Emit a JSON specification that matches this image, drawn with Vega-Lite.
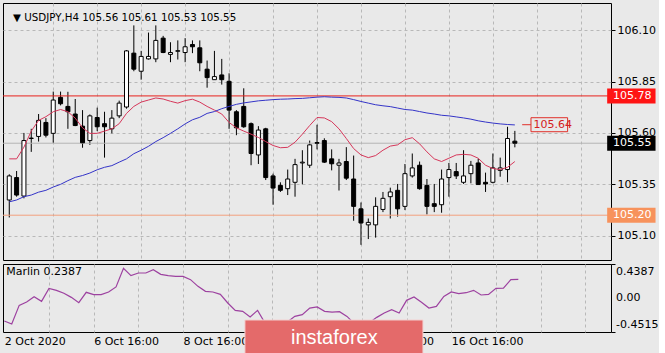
{
  "$schema": "https://vega.github.io/schema/vega-lite/v6.json",
  "background": "#e9e9e9",
  "padding": {"left": 2, "top": 2, "right": 0, "bottom": 0},
  "spacing": 2,
  "config": {
    "font": "DejaVu Sans",
    "view": {"stroke": "#000000", "strokeWidth": 1, "fill": "#e9e9e9"},
    "axis": {"labelFont": "DejaVu Sans", "labelFontSize": 11, "labelColor": "#000000", "title": null, "domain": false, "tickColor": "#000000"}
  },
  "datasets": {
    "bars": [
      {"i":0,"o":105.274,"h":105.399,"l":105.189,"c":105.391,"r":105.474,"b":105.265,"m":-0.308},
      {"i":1,"o":105.383,"h":105.415,"l":105.290,"c":105.298,"r":105.474,"b":105.274,"m":-0.347},
      {"i":2,"o":105.293,"h":105.600,"l":105.282,"c":105.563,"r":105.531,"b":105.290,"m":-0.103},
      {"i":3,"o":105.573,"h":105.620,"l":105.508,"c":105.575,"r":105.609,"b":105.298,"m":-0.059},
      {"i":4,"o":105.583,"h":105.692,"l":105.558,"c":105.661,"r":105.661,"b":105.312,"m":0.011},
      {"i":5,"o":105.651,"h":105.672,"l":105.578,"c":105.589,"r":105.679,"b":105.321,"m":-0.050},
      {"i":6,"o":105.598,"h":105.801,"l":105.552,"c":105.760,"r":105.703,"b":105.337,"m":0.120},
      {"i":7,"o":105.773,"h":105.801,"l":105.734,"c":105.742,"r":105.714,"b":105.350,"m":0.094},
      {"i":8,"o":105.729,"h":105.800,"l":105.620,"c":105.703,"r":105.703,"b":105.368,"m":0.055},
      {"i":9,"o":105.692,"h":105.765,"l":105.633,"c":105.636,"r":105.672,"b":105.384,"m":0.002},
      {"i":10,"o":105.633,"h":105.711,"l":105.528,"c":105.552,"r":105.625,"b":105.393,"m":-0.068},
      {"i":11,"o":105.563,"h":105.690,"l":105.542,"c":105.683,"r":105.598,"b":105.405,"m":0.068},
      {"i":12,"o":105.675,"h":105.723,"l":105.609,"c":105.630,"r":105.598,"b":105.421,"m":0.037},
      {"i":13,"o":105.645,"h":105.703,"l":105.480,"c":105.630,"r":105.609,"b":105.433,"m":0.037},
      {"i":14,"o":105.620,"h":105.711,"l":105.598,"c":105.672,"r":105.620,"b":105.441,"m":0.072},
      {"i":15,"o":105.683,"h":105.757,"l":105.672,"c":105.745,"r":105.645,"b":105.458,"m":0.138},
      {"i":16,"o":105.726,"h":106.003,"l":105.718,"c":105.999,"r":105.695,"b":105.474,"m":0.382},
      {"i":17,"o":105.988,"h":106.123,"l":105.900,"c":105.910,"r":105.729,"b":105.499,"m":0.286},
      {"i":18,"o":105.900,"h":105.999,"l":105.859,"c":105.972,"r":105.750,"b":105.516,"m":0.321},
      {"i":19,"o":105.960,"h":106.088,"l":105.957,"c":105.972,"r":105.760,"b":105.535,"m":0.321},
      {"i":20,"o":105.960,"h":106.123,"l":105.944,"c":106.050,"r":105.770,"b":105.558,"m":0.365},
      {"i":21,"o":106.061,"h":106.072,"l":105.988,"c":105.991,"r":105.765,"b":105.577,"m":0.303},
      {"i":22,"o":105.982,"h":106.041,"l":105.944,"c":105.991,"r":105.754,"b":105.598,"m":0.286},
      {"i":23,"o":105.997,"h":106.050,"l":105.957,"c":106.000,"r":105.745,"b":105.620,"m":0.277},
      {"i":24,"o":105.991,"h":106.061,"l":105.944,"c":106.019,"r":105.757,"b":105.644,"m":0.277},
      {"i":25,"o":106.030,"h":106.050,"l":105.988,"c":106.019,"r":105.764,"b":105.664,"m":0.234},
      {"i":26,"o":106.014,"h":106.050,"l":105.900,"c":105.941,"r":105.750,"b":105.676,"m":0.146},
      {"i":27,"o":105.910,"h":105.952,"l":105.820,"c":105.869,"r":105.729,"b":105.695,"m":0.081},
      {"i":28,"o":105.859,"h":105.999,"l":105.859,"c":105.874,"r":105.711,"b":105.704,"m":0.072},
      {"i":29,"o":105.882,"h":105.960,"l":105.835,"c":105.859,"r":105.692,"b":105.718,"m":0.041},
      {"i":30,"o":105.851,"h":105.890,"l":105.620,"c":105.711,"r":105.651,"b":105.729,"m":-0.072},
      {"i":31,"o":105.703,"h":105.711,"l":105.589,"c":105.625,"r":105.625,"b":105.739,"m":-0.168},
      {"i":32,"o":105.729,"h":105.817,"l":105.625,"c":105.630,"r":105.609,"b":105.746,"m":-0.181},
      {"i":33,"o":105.645,"h":105.651,"l":105.443,"c":105.500,"r":105.594,"b":105.751,"m":-0.255},
      {"i":34,"o":105.493,"h":105.633,"l":105.449,"c":105.614,"r":105.578,"b":105.756,"m":-0.168},
      {"i":35,"o":105.620,"h":105.625,"l":105.371,"c":105.383,"r":105.558,"b":105.759,"m":-0.334},
      {"i":36,"o":105.391,"h":105.402,"l":105.251,"c":105.332,"r":105.539,"b":105.762,"m":-0.400},
      {"i":37,"o":105.345,"h":105.360,"l":105.313,"c":105.321,"r":105.528,"b":105.764,"m":-0.380},
      {"i":38,"o":105.329,"h":105.422,"l":105.298,"c":105.376,"r":105.530,"b":105.765,"m":-0.321},
      {"i":39,"o":105.360,"h":105.474,"l":105.290,"c":105.446,"r":105.555,"b":105.767,"m":-0.247},
      {"i":40,"o":105.454,"h":105.516,"l":105.350,"c":105.458,"r":105.594,"b":105.768,"m":-0.225},
      {"i":41,"o":105.443,"h":105.563,"l":105.430,"c":105.542,"r":105.636,"b":105.771,"m":-0.138},
      {"i":42,"o":105.553,"h":105.640,"l":105.520,"c":105.550,"r":105.675,"b":105.774,"m":-0.124},
      {"i":43,"o":105.563,"h":105.574,"l":105.454,"c":105.458,"r":105.673,"b":105.776,"m":-0.181},
      {"i":44,"o":105.474,"h":105.520,"l":105.418,"c":105.450,"r":105.655,"b":105.774,"m":-0.190},
      {"i":45,"o":105.443,"h":105.474,"l":105.320,"c":105.454,"r":105.620,"b":105.773,"m":-0.186},
      {"i":46,"o":105.461,"h":105.531,"l":105.371,"c":105.380,"r":105.573,"b":105.770,"m":-0.247},
      {"i":47,"o":105.376,"h":105.490,"l":105.173,"c":105.243,"r":105.524,"b":105.762,"m":-0.343},
      {"i":48,"o":105.231,"h":105.262,"l":105.056,"c":105.162,"r":105.493,"b":105.753,"m":-0.390},
      {"i":49,"o":105.153,"h":105.184,"l":105.084,"c":105.165,"r":105.480,"b":105.745,"m":-0.330},
      {"i":50,"o":105.153,"h":105.287,"l":105.091,"c":105.243,"r":105.490,"b":105.737,"m":-0.260},
      {"i":51,"o":105.228,"h":105.313,"l":105.215,"c":105.282,"r":105.516,"b":105.732,"m":-0.203},
      {"i":52,"o":105.290,"h":105.334,"l":105.184,"c":105.313,"r":105.536,"b":105.728,"m":-0.159},
      {"i":53,"o":105.321,"h":105.352,"l":105.193,"c":105.231,"r":105.542,"b":105.721,"m":-0.203},
      {"i":54,"o":105.243,"h":105.449,"l":105.225,"c":105.402,"r":105.567,"b":105.714,"m":-0.037},
      {"i":55,"o":105.391,"h":105.500,"l":105.383,"c":105.430,"r":105.577,"b":105.711,"m":0.007},
      {"i":56,"o":105.443,"h":105.461,"l":105.324,"c":105.329,"r":105.547,"b":105.704,"m":-0.063},
      {"i":57,"o":105.345,"h":105.376,"l":105.204,"c":105.243,"r":105.508,"b":105.697,"m":-0.138},
      {"i":58,"o":105.256,"h":105.352,"l":105.215,"c":105.243,"r":105.474,"b":105.692,"m":-0.116},
      {"i":59,"o":105.251,"h":105.422,"l":105.212,"c":105.376,"r":105.461,"b":105.686,"m":0.015},
      {"i":60,"o":105.383,"h":105.454,"l":105.290,"c":105.422,"r":105.477,"b":105.683,"m":0.072},
      {"i":61,"o":105.412,"h":105.454,"l":105.376,"c":105.391,"r":105.493,"b":105.678,"m":0.050},
      {"i":62,"o":105.360,"h":105.516,"l":105.352,"c":105.391,"r":105.496,"b":105.673,"m":0.063},
      {"i":63,"o":105.402,"h":105.464,"l":105.355,"c":105.443,"r":105.493,"b":105.667,"m":0.094},
      {"i":64,"o":105.454,"h":105.474,"l":105.349,"c":105.349,"r":105.477,"b":105.659,"m":0.033},
      {"i":65,"o":105.360,"h":105.407,"l":105.313,"c":105.352,"r":105.443,"b":105.653,"m":0.041},
      {"i":66,"o":105.360,"h":105.500,"l":105.355,"c":105.430,"r":105.427,"b":105.648,"m":0.120},
      {"i":67,"o":105.418,"h":105.480,"l":105.387,"c":105.430,"r":105.422,"b":105.644,"m":0.124},
      {"i":68,"o":105.422,"h":105.630,"l":105.360,"c":105.573,"r":105.433,"b":105.641,"m":0.234},
      {"i":69,"o":105.560,"h":105.610,"l":105.530,"c":105.550,"r":105.461,"b":105.639,"m":0.2387}
    ],
    "levels": [
      {"p": 105.78, "t": "105.78"},
      {"p": 105.55, "t": "105.55"},
      {"p": 105.20, "t": "105.20"}
    ]
  },
  "vconcat": [
    {
      "width": 608,
      "height": 257,
      "layer": [
        {
          "data": {"name": "bars"},
          "mark": {"type": "rule", "color": "#000000", "strokeWidth": 1, "clip": true},
          "encoding": {
            "x": {"field": "i", "type": "quantitative",
                  "scale": {"domain": [-0.174, 81.44], "nice": false, "zero": false},
                  "axis": {"orient": "bottom", "values": [6,12,18,24,30,36,42,48,54,60,66,72,78], "labels": false, "ticks": false, "grid": true, "gridDash": [3,3], "gridColor": "#b8b8b8"}},
            "y": {"field": "l", "type": "quantitative",
                  "scale": {"domain": [105.0065, 106.2075], "nice": false, "zero": false},
                  "axis": {"orient": "right", "values": [106.10, 105.85, 105.60, 105.35, 105.10], "format": ".2f", "grid": true, "gridDash": [3,3], "gridColor": "#b8b8b8", "tickSize": 4, "labelPadding": 2, "labelOverlap": false}},
            "y2": {"field": "h"}
          }
        },
        {
          "data": {"name": "levels"},
          "mark": {"type": "rule", "strokeWidth": 1},
          "encoding": {
            "y": {"field": "p", "type": "quantitative"},
            "stroke": {"field": "t", "type": "nominal", "legend": null,
                       "scale": {"domain": ["105.78", "105.55", "105.20"], "range": ["#e8201c", "#b4b4b4", "#f2a07e"]}}
          }
        },
        {
          "data": {"name": "bars"},
          "mark": {"type": "bar", "orient": "vertical", "size": 4, "stroke": "#000000", "strokeWidth": 1, "clip": true},
          "encoding": {
            "x": {"field": "i", "type": "quantitative"},
            "y": {"field": "o", "type": "quantitative"},
            "y2": {"field": "c"},
            "fill": {"condition": {"test": "datum.c >= datum.o", "value": "#ffffff"}, "value": "#000000"}
          }
        },
        {
          "data": {"name": "bars"},
          "mark": {"type": "line", "color": "#d6375a", "strokeWidth": 1, "clip": true},
          "encoding": {
            "x": {"field": "i", "type": "quantitative"},
            "y": {"field": "r", "type": "quantitative"}
          }
        },
        {
          "data": {"name": "bars"},
          "mark": {"type": "line", "color": "#3434c8", "strokeWidth": 1, "clip": true},
          "encoding": {
            "x": {"field": "i", "type": "quantitative"},
            "y": {"field": "b", "type": "quantitative"}
          }
        },
        {
          "data": {"values": [{"p": 105.64, "t": "105.64"}]},
          "layer": [
            {
              "mark": {"type": "rule", "color": "#e0302a", "strokeWidth": 1},
              "encoding": {
                "x": {"datum": 70.0},
                "x2": {"datum": 71.2},
                "y": {"field": "p", "type": "quantitative"}
              }
            },
            {
              "mark": {"type": "bar", "orient": "horizontal", "size": 14, "fill": "#e9e9e9", "stroke": "#e0302a", "strokeWidth": 1},
              "encoding": {
                "x": {"datum": 71.2},
                "x2": {"datum": 76.2},
                "y": {"field": "p", "type": "quantitative"}
              }
            },
            {
              "mark": {"type": "text", "align": "left", "baseline": "middle", "color": "#d42020", "fontSize": 11, "font": "DejaVu Sans"},
              "encoding": {
                "x": {"datum": 71.55},
                "y": {"field": "p", "type": "quantitative"},
                "text": {"field": "t"}
              }
            }
          ]
        },
        {
          "data": {"name": "levels"},
          "mark": {"type": "bar", "orient": "horizontal", "size": 15},
          "encoding": {
            "x": {"datum": 81.6},
            "x2": {"datum": 88.2},
            "y": {"field": "p", "type": "quantitative"},
            "fill": {"field": "t", "type": "nominal", "legend": null,
                     "scale": {"domain": ["105.78", "105.55", "105.20"], "range": ["#ff1414", "#000000", "#f7925c"]}}
          }
        },
        {
          "data": {"name": "levels"},
          "mark": {"type": "text", "align": "left", "baseline": "middle", "color": "#ffffff", "fontSize": 11, "font": "DejaVu Sans"},
          "encoding": {
            "x": {"datum": 82.4},
            "y": {"field": "p", "type": "quantitative"},
            "text": {"field": "t"}
          }
        },
        {
          "data": {"values": [{"t": "▼ USDJPY,H4  105.56 105.61 105.53 105.55"}]},
          "mark": {"type": "text", "align": "left", "baseline": "middle", "color": "#000000", "fontSize": 10.3, "font": "DejaVu Sans"},
          "encoding": {
            "x": {"datum": 0.5},
            "y": {"datum": 106.161},
            "text": {"field": "t"}
          }
        }
      ]
    },
    {
      "width": 608,
      "height": 68,
      "layer": [
        {
          "data": {"name": "bars"},
          "mark": {"type": "line", "color": "#9d42a0", "strokeWidth": 1.2, "clip": true},
          "encoding": {
            "x": {"field": "i", "type": "quantitative",
                  "scale": {"domain": [-0.174, 81.44], "nice": false, "zero": false},
                  "axis": {"orient": "bottom", "values": [0,6,12,18,24,30,36,42,48,54,60,66,72,78],
                           "labelExpr": "datum.value == 0 ? '2 Oct 2020' : datum.value == 12 ? '6 Oct 16:00' : datum.value == 24 ? '8 Oct 16:00' : datum.value == 36 ? '12 Oct 16:00' : datum.value == 48 ? '14 Oct 16:00' : datum.value == 60 ? '16 Oct 16:00' : ''",
                           "labelAlign": "left", "labelBaseline": "top", "labelPadding": 3, "labelOverlap": false, "labelFlush": false,
                           "ticks": false, "grid": true, "gridDash": [3,3], "gridColor": "#b8b8b8",
                           "gridOpacity": {"condition": {"test": "datum.value == 0", "value": 0}, "value": 1}}},
            "y": {"field": "m", "type": "quantitative",
                  "scale": {"domain": [-0.4515, 0.4387], "nice": false, "zero": false},
                  "axis": {"orient": "right", "values": [0.4387, 0.0001, -0.4515], "labels": false,
                           "tickSize": 4, "grid": true, "gridDash": [3,3], "gridColor": "#b8b8b8",
                           "gridOpacity": {"condition": {"test": "abs(datum.value) < 0.01", "value": 1}, "value": 0}}}
          }
        },
        {
          "data": {"values": [{"t": "0.4387"}]},
          "mark": {"type": "text", "align": "left", "baseline": "top", "dy": 2, "color": "#000000", "fontSize": 11, "font": "DejaVu Sans"},
          "encoding": {
            "x": {"datum": 82.1},
            "y": {"datum": 0.4387},
            "text": {"field": "t"}
          }
        },
        {
          "data": {"values": [{"t": "0.00"}]},
          "mark": {"type": "text", "align": "left", "baseline": "middle", "color": "#000000", "fontSize": 11, "font": "DejaVu Sans"},
          "encoding": {
            "x": {"datum": 82.1},
            "y": {"datum": 0.0001},
            "text": {"field": "t"}
          }
        },
        {
          "data": {"values": [{"t": "-0.4515"}]},
          "mark": {"type": "text", "align": "left", "baseline": "bottom", "dy": -2, "color": "#000000", "fontSize": 11, "font": "DejaVu Sans"},
          "encoding": {
            "x": {"datum": 82.1},
            "y": {"datum": -0.4515},
            "text": {"field": "t"}
          }
        },
        {
          "data": {"values": [{"t": "Marlin 0.2387"}]},
          "mark": {"type": "text", "align": "left", "baseline": "middle", "color": "#000000", "fontSize": 11, "font": "DejaVu Sans"},
          "encoding": {
            "x": {"datum": 0.25},
            "y": {"datum": 0.334},
            "text": {"field": "t"}
          }
        },
        {
          "data": {"values": [{"t": "instaforex"}]},
          "layer": [
            {
              "mark": {"type": "rect", "fill": "#e46a6a", "stroke": "#f3d2d2", "strokeWidth": 1},
              "encoding": {
                "x": {"datum": 32.3},
                "x2": {"datum": 56.2},
                "y": {"datum": -0.2944},
                "y2": {"datum": -0.76}
              }
            },
            {
              "mark": {"type": "text", "align": "center", "baseline": "middle", "color": "#ffffff", "fontSize": 20, "font": "Liberation Sans"},
              "encoding": {
                "x": {"datum": 44.3},
                "y": {"datum": -0.535},
                "text": {"field": "t"}
              }
            }
          ]
        }
      ]
    }
  ]
}
